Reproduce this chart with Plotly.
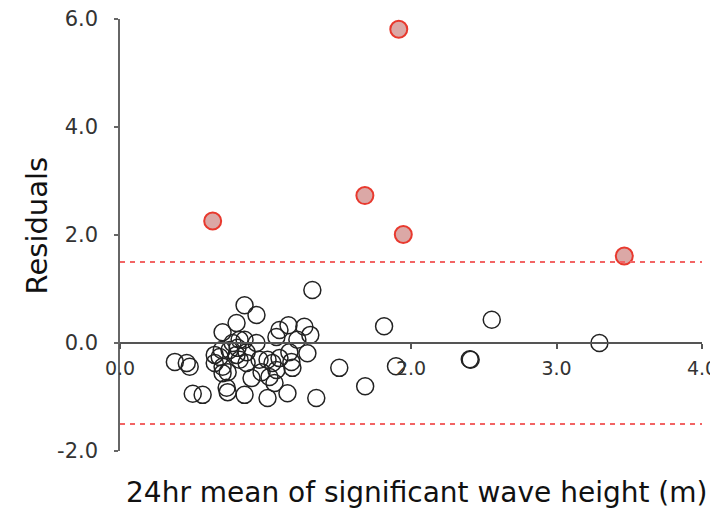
import plotly.graph_objects as go

# Black open circles (within thresholds)
x_in = [0.377, 0.459, 0.479, 0.500, 0.568, 0.651, 0.651, 0.685, 0.699, 0.705,
        0.705, 0.705, 0.733, 0.740, 0.740, 0.753, 0.774, 0.801, 0.801, 0.808,
        0.822, 0.822, 0.856, 0.856, 0.856, 0.870, 0.870, 0.904, 0.938, 0.938,
        0.959, 0.973, 1.014, 1.014, 1.027, 1.048, 1.062, 1.075, 1.075, 1.096,
        1.096, 1.151, 1.158, 1.164, 1.178, 1.185, 1.219, 1.267, 1.288, 1.308,
        1.322, 1.349, 1.507, 1.685, 1.815, 1.897, 2.404, 2.410, 2.555, 3.295]
y_in = [-0.35, -0.37, -0.44, -0.94, -0.96, -0.22, -0.37, -0.26, -0.13, 0.20,
        -0.44, -0.56, -0.83, -0.54, -0.91, -0.13, 0.00, 0.37, -0.22, -0.09,
        0.06, -0.31, 0.70, 0.06, -0.96, -0.17, -0.37, -0.65, 0.52, 0.00,
        -0.31, -0.54, -0.31, -1.02, -0.63, -0.37, -0.74, 0.11, -0.50, 0.24,
        -0.28, -0.93, 0.33, -0.17, -0.35, -0.46, 0.06, 0.30, -0.19, 0.15,
        0.98, -1.02, -0.46, -0.80, 0.31, -0.43, -0.30, -0.31, 0.43, 0.00]

# Red filled circles (outliers)
x_out = [0.637, 1.916, 1.683, 1.947, 3.466]
y_out = [2.26, 5.81, 2.73, 2.01, 1.61]

threshold = 1.5
x_range = [0, 4]
y_range = [-2, 6]
x_ticks = [0, 2, 3, 4]
x_tick_labels = ["0.0", "2.0", "3.0", "4.0"]
y_ticks = [-2, 0, 2, 4, 6]
y_tick_labels = ["-2.0", "0.0", "2.0", "4.0", "6.0"]

FONT = "DejaVu Sans"

fig = go.Figure()

fig.add_hline(y=threshold, line=dict(color="#f26464", width=2, dash="5px,5px"))
fig.add_hline(y=-threshold, line=dict(color="#f26464", width=2, dash="5px,5px"))

fig.add_trace(go.Scatter(
    x=x_in, y=y_in, mode="markers",
    marker=dict(size=17, color="rgba(0,0,0,0)",
                line=dict(color="#222222", width=1.5)),
    showlegend=False, cliponaxis=False))

fig.add_trace(go.Scatter(
    x=x_out, y=y_out, mode="markers",
    marker=dict(size=17, color="#dba8a6",
                line=dict(color="#e8392e", width=2)),
    showlegend=False, cliponaxis=False))

fig.update_layout(
    width=718, height=514,
    margin=dict(l=112, r=24, t=11, b=71, autoexpand=False),
    paper_bgcolor="white", plot_bgcolor="white",
    font=dict(family=FONT, color="#333333"),
    xaxis=dict(range=x_range, tickvals=x_ticks, ticktext=x_tick_labels,
               anchor="free", position=0.25, automargin=False,
               ticklabeloverflow="allow",
               showgrid=False, zeroline=False,
               showline=True, linecolor="#555555", linewidth=1.5,
               ticks="outside", ticklen=5, tickcolor="#555555", tickwidth=1.5,
               ticklabelstandoff=3,
               tickfont=dict(size=19, color="#333333", family=FONT)),
    yaxis=dict(range=y_range, tickvals=y_ticks, ticktext=y_tick_labels,
               automargin=False, ticklabeloverflow="allow",
               showgrid=False, zeroline=False,
               showline=True, linecolor="#666666", linewidth=1.5,
               ticks="outside", ticklen=4, tickcolor="#666666", tickwidth=1.5,
               ticklabelstandoff=12,
               tickfont=dict(size=21, color="#333333", family=FONT)),
    annotations=[
        dict(text="Residuals", xref="paper", yref="paper",
             x=-0.142, y=0.523, textangle=-90, showarrow=False,
             xanchor="center", yanchor="middle",
             font=dict(size=29, color="#111111", family=FONT)),
        dict(text="24hr mean of significant wave height (m)",
             xref="paper", yref="paper", x=0.51, y=-0.095,
             showarrow=False, xanchor="center", yanchor="middle",
             font=dict(size=28, color="#111111", family=FONT)),
    ],
)

fig.write_html("out.html")
